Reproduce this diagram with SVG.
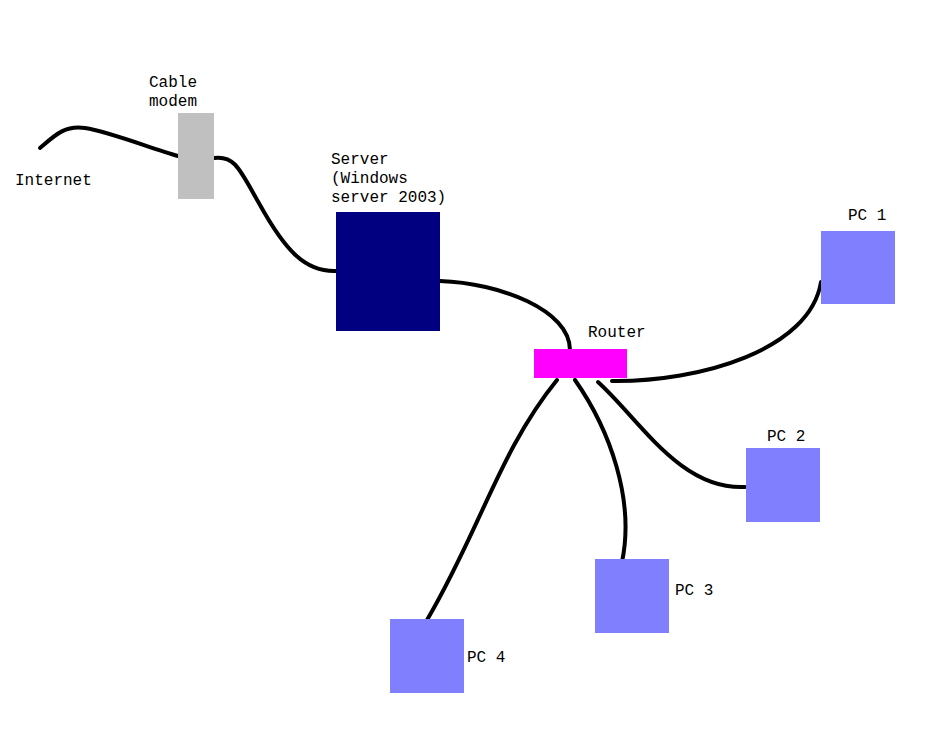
<svg xmlns="http://www.w3.org/2000/svg" width="934" height="733" viewBox="0 0 934 733">
<style>
text{font-family:"Liberation Mono","DejaVu Sans Mono",monospace;font-size:16px;fill:#000}
.pc{fill:#8080ff}
#connectors path{fill:none;stroke:#000;stroke-width:4;stroke-linecap:round}
</style>
<rect width="934" height="733" fill="#fff"/>
<g id="connectors">
<path d="M40,148 C55,135 65,125 85,128 C110,132 150,148 178,156"/>
<path d="M214,158 C235,155 240,170 260,205 C285,250 305,272 336,271"/>
<path d="M440,281 C500,283 570,310 570,350"/>
<path d="M612,381 C700,382 810,350 821,282"/>
<path d="M598,382 C640,420 680,490 745,487"/>
<path d="M575,380 C610,430 635,500 622,562"/>
<path d="M557,380 C500,450 480,530 427,620"/>
</g>
<g id="internet"><text x="15" y="185">Internet</text></g>
<g id="modem"><rect x="178" y="113" width="36" height="86" fill="#c0c0c0"/><text x="149" y="87">Cable</text><text x="149" y="106">modem</text></g>
<g id="server"><rect x="336" y="212" width="104" height="119" fill="#000080"/><text x="331" y="164">Server</text><text x="331" y="183">(Windows</text><text x="331" y="202">server 2003)</text></g>
<g id="router"><rect x="534" y="349" width="93" height="29" fill="#ff00ff"/><text x="588" y="337">Router</text></g>
<g id="pc1"><rect class="pc" x="821" y="231" width="74" height="73"/><text x="848" y="220">PC 1</text></g>
<g id="pc2"><rect class="pc" x="746" y="448" width="74" height="74"/><text x="767" y="441">PC 2</text></g>
<g id="pc3"><rect class="pc" x="595" y="559" width="74" height="74"/><text x="675" y="595">PC 3</text></g>
<g id="pc4"><rect class="pc" x="390" y="619" width="74" height="74"/><text x="467" y="662">PC 4</text></g>
</svg>
